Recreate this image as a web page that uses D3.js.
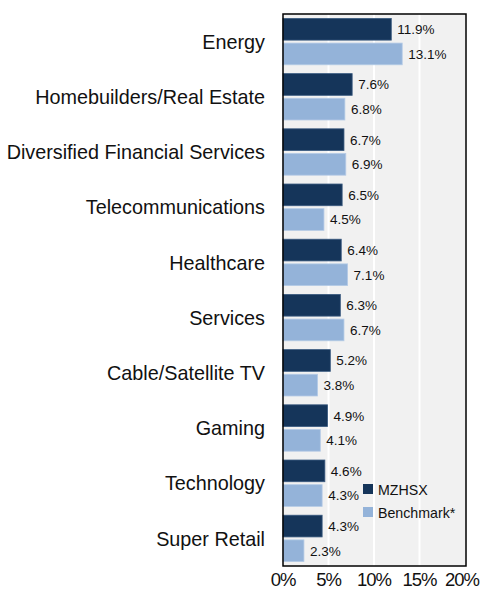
<!DOCTYPE html>
<html>
<head>
<meta charset="utf-8">
<script src="https://cdn.jsdelivr.net/npm/d3@7"></script>
<style>
  body { margin: 0; background: #fff; }
  text { font-family: "Liberation Sans", Arial, sans-serif; }
</style>
</head>
<body>
<div class="canvas"></div>
<script>
// data
const categories = ['Energy', 'Homebuilders/Real Estate', 'Diversified Financial Services',
    'Telecommunications', 'Healthcare', 'Services', 'Cable/Satellite TV', 'Gaming',
    'Technology', 'Super Retail'];
const fund = [11.9, 7.6, 6.7, 6.5, 6.4, 6.3, 5.2, 4.9, 4.6, 4.3];
const bench = [13.1, 6.8, 6.9, 4.5, 7.1, 6.7, 3.8, 4.1, 4.3, 2.3];
const seriesNames = ['MZHSX', 'Benchmark*'];
const ticks = [0, 5, 10, 15, 20];

const colors = ['#15355a', '#94b3d9'];

const svg = d3.select('.canvas')
    .append('svg')
    .attr('width', 480)
    .attr('height', 590);

const margin = { top: 14, right: 14, bottom: 24, left: 283 };
const plotW = 466 - margin.left;
const plotH = 566 - margin.top;

const graph = svg.append('g')
    .attr('transform', `translate(${margin.left},${margin.top})`);

// scales
const x = d3.scaleLinear().domain([0, 20]).range([0, 182]);
const y = d3.scaleBand().domain(categories).range([0, plotH]).paddingInner(0.16).paddingOuter(0.08);
const sub = d3.scaleBand().domain([0, 1]).range([0, y.bandwidth()]).paddingInner(0.12);

// background
graph.append('rect')
    .attr('width', plotW)
    .attr('height', plotH)
    .attr('fill', '#f1f1f1');

// gridlines
graph.selectAll('line.grid')
    .data(ticks.slice(1, -1))
    .enter().append('line')
    .attr('class', 'grid')
    .attr('x1', d => x(d)).attr('x2', d => x(d))
    .attr('y1', 0).attr('y2', plotH)
    .attr('stroke', '#fff')
    .attr('stroke-width', 2);

// bars
const rows = categories.map((c, i) => ({ cat: c, vals: [fund[i], bench[i]] }));
const groups = graph.selectAll('g.row')
    .data(rows)
    .enter().append('g')
    .attr('transform', d => `translate(0,${y(d.cat)})`);

groups.selectAll('rect')
    .data(d => d.vals.map((v, k) => ({ v, k })))
    .enter().append('rect')
    .attr('x', 0)
    .attr('y', d => sub(d.k))
    .attr('width', d => x(d.v))
    .attr('height', sub.bandwidth())
    .attr('fill', d => colors[d.k])
    .attr('stroke', d => d.k === 0 ? '#3a5a80' : '#b5cbe6')
    .attr('stroke-width', 0.8);

groups.selectAll('text')
    .data(d => d.vals.map((v, k) => ({ v, k })))
    .enter().append('text')
    .attr('x', d => x(d.v) + 6)
    .attr('y', d => sub(d.k) + sub.bandwidth() / 2)
    .attr('dy', '0.36em')
    .attr('font-size', 13.5)
    .attr('fill', '#111')
    .text(d => d.v.toFixed(1) + '%');

// border
graph.append('rect')
    .attr('width', plotW)
    .attr('height', plotH)
    .attr('fill', 'none')
    .attr('stroke', '#000')
    .attr('stroke-width', 1.5);

// category labels
svg.selectAll('text.cat')
    .data(categories)
    .enter().append('text')
    .attr('class', 'cat')
    .attr('x', 265)
    .attr('y', d => margin.top + y(d) + y.bandwidth() / 2)
    .attr('dy', '0.36em')
    .attr('text-anchor', 'end')
    .attr('font-size', 19.8)
    .attr('fill', '#111')
    .text(d => d);

// x tick labels
svg.selectAll('text.tick')
    .data(ticks)
    .enter().append('text')
    .attr('class', 'tick')
    .attr('x', d => margin.left + x(d) + (d === 0 ? 0 : d === 20 ? -3 : 0))
    .attr('y', 586)
    .attr('text-anchor', 'middle')
    .attr('font-size', 18.5)
    .attr('letter-spacing', -1)
    .attr('fill', '#111')
    .text(d => d + '%');

// legend
const legend = svg.append('g').attr('transform', 'translate(363,484)');
seriesNames.forEach((name, i) => {
    legend.append('rect')
        .attr('x', 0).attr('y', i * 23)
        .attr('width', 10).attr('height', 10)
        .attr('fill', colors[i]);
    legend.append('text')
        .attr('x', 15).attr('y', i * 23 + 5.5)
        .attr('dy', '0.36em')
        .attr('font-size', 14.2)
        .attr('fill', '#111')
        .text(name);
});
</script>
</body>
</html>
